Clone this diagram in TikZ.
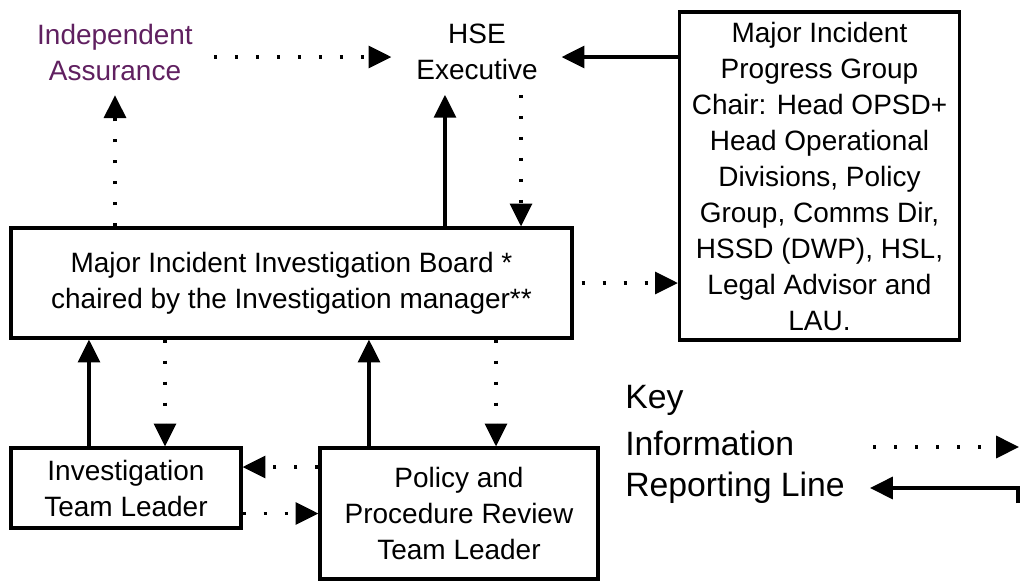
\documentclass[tikz,border=0pt]{standalone}
\usepackage{fontspec}
\setmainfont{Liberation Sans}
\usetikzlibrary{arrows.meta}
\definecolor{iapurple}{RGB}{96,32,96}

\begin{document}
\begin{tikzpicture}[x=0.025cm, y=-0.025cm,
  every node/.style={align=center, font=\fontsize{19.9}{25.6}\selectfont},
  box/.style={draw, line width=0.08cm, inner sep=0pt},
  info/.style={line width=0.08cm, dash pattern=on 0.075cm off 0.45cm,
    -{Triangle[length=0.57cm,width=0.55cm]}},
  report/.style={line width=0.08cm, -{Triangle[length=0.57cm,width=0.55cm]}},
  keytext/.style={anchor=west, inner sep=0pt, font=\fontsize{24}{31}\selectfont}]
  \useasboundingbox (0,0) rectangle (1020,581);

  % top row
  \node[text=iapurple] (ia) at (115,52) {Independent\\Assurance};
  \node (hse) at (477,52) {HSE\\Executive};
  \node[box, minimum width=7cm, minimum height=8.2cm] (mipg) at (819.5,176)
    {Major Incident\\Progress Group\\Chair: Head OPSD+\\Head Operational\\Divisions, Policy\\Group, Comms Dir,\\HSSD (DWP), HSL,\\Legal Advisor and\\LAU.};

  % board
  \node[box, minimum width=14.025cm, minimum height=2.75cm] (miib) at (291.5,283)
    {Major Incident Investigation Board *\\chaired by the Investigation manager**};

  % team leaders
  \node[box, minimum width=5.75cm, minimum height=2cm] (it) at (126,488)
    {Investigation\\Team Leader};
  \node[box, minimum width=6.95cm, minimum height=3.275cm] (ppr) at (459,513.5)
    {Policy and\\Procedure Review\\Team Leader};

  \draw[info, shorten <=0.4cm, shorten >=0.5cm]
    ([yshift=-0.125cm]ia.east) -- ([yshift=-0.125cm]hse.west);
  \draw[report, shorten >=0.475cm]
    ([yshift=-0.125cm]mipg.west |- hse.east) -- ([yshift=-0.125cm]hse.east);
  \draw[info, shorten >=0.25cm] (ia.south |- miib.north) -- (ia.south);
  \draw[report, shorten >=0.25cm] ([xshift=-0.8cm]hse.south |- miib.north) -- ([xshift=-0.8cm]hse.south);
  \draw[info, shorten <=0.25cm] ([xshift=1.1cm]hse.south) -- ([xshift=1.1cm]hse.south |- miib.north);
  \draw[info, shorten <=0.2cm] (miib.east) -- (mipg.west |- miib.east);

  \draw[report] ([xshift=-0.925cm]it.north) -- ([xshift=-0.925cm]it.north |- miib.south);
  \draw[info] ([xshift=0.975cm]it.north |- miib.south) -- ([xshift=0.975cm]it.north);
  \draw[report] ([xshift=-2.25cm]ppr.north) -- ([xshift=-2.25cm]ppr.north |- miib.south);
  \draw[info] ([xshift=0.925cm]ppr.north |- miib.south) -- ([xshift=0.925cm]ppr.north);
  \draw[info] ([yshift=0.525cm]it.east -| ppr.west) -- ([yshift=0.525cm]it.east);
  \draw[info] (it.east |- ppr.west) -- (ppr.west);

  % key
  \node[keytext] (key) at (625,400) {Key};
  \node[keytext] (info) at (625,443) {Information};
  \node[keytext] (rep) at (625,488) {Reporting Line};
  \coordinate (infostart) at (873,447);
  \coordinate (infotip) at (1019,447);
  \draw[info] (infostart) -- (infotip);
  \coordinate (repstart) at (1018,503);
  \coordinate (reptip) at (870,488);
  \draw[report] (repstart) |- (reptip);
\end{tikzpicture}
\end{document}
